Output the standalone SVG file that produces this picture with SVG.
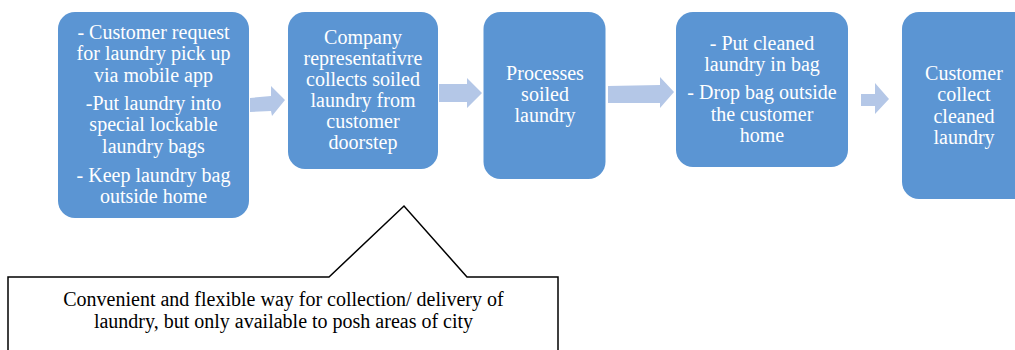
<svg xmlns="http://www.w3.org/2000/svg" width="1015" height="350" viewBox="0 0 1015 350">
<style>
.node{fill:#5B95D3;}
.nt{font-family:'Liberation Serif','Times New Roman',Times,'DejaVu Serif',serif;font-size:20px;fill:#ffffff;text-anchor:middle;}
.arrow{fill:#B4C7E7;}
.call{fill:#ffffff;stroke:#000000;stroke-width:1.5;}
.ct{font-family:'Liberation Serif','Times New Roman',Times,'DejaVu Serif',serif;font-size:20px;fill:#000000;text-anchor:middle;}
</style>
<rect width="1015" height="350" fill="#ffffff"/>
<g id="connectors">
<polygon class="arrow" points="250,98 271,96 271,86 285,100 272,116 271,111 250,112"/>
<polygon class="arrow" points="439,84 467,84 467,78 482,93 467,108 467,102 439,102"/>
<polygon class="arrow" points="608,86 660,85 660,77 674,92 660,108 660,103 608,103"/>
<polygon class="arrow" points="861,94 875,94 875,83 889,99 875,114 875,106 861,106"/>
</g>
<g id="node1" font-family="Liberation Serif, Times New Roman, serif">
<rect class="node" x="58" y="12" width="191" height="206" rx="17"/>
<text class="nt" x="153.5" y="39">- Customer request</text>
<text class="nt" x="153.5" y="60.3">for laundry pick up</text>
<text class="nt" x="153.5" y="81.6">via mobile app</text>
<text class="nt" x="153.5" y="110">-Put laundry into</text>
<text class="nt" x="153.5" y="131.3">special lockable</text>
<text class="nt" x="153.5" y="152.6">laundry bags</text>
<text class="nt" x="153.5" y="181.5">- Keep laundry bag</text>
<text class="nt" x="153.5" y="202.8">outside home</text>
</g>
<g id="node2">
<rect class="node" x="288" y="12" width="150" height="157" rx="17"/>
<text class="nt" x="363" y="43.5">Company</text>
<text class="nt" x="363" y="64.5">representativre</text>
<text class="nt" x="363" y="85.5">collects soiled</text>
<text class="nt" x="363" y="106.5">laundry from</text>
<text class="nt" x="363" y="127.5">customer</text>
<text class="nt" x="363" y="148.5">doorstep</text>
</g>
<g id="node3">
<rect class="node" x="483.5" y="12" width="122" height="167" rx="17"/>
<text class="nt" x="545" y="80">Processes</text>
<text class="nt" x="545" y="101">soiled</text>
<text class="nt" x="545" y="122">laundry</text>
</g>
<g id="node4">
<rect class="node" x="676" y="12" width="172" height="155" rx="17"/>
<text class="nt" x="762" y="49.5">- Put cleaned</text>
<text class="nt" x="762" y="70.8">laundry in bag</text>
<text class="nt" x="762" y="99.2">- Drop bag outside</text>
<text class="nt" x="762" y="120.5">the customer</text>
<text class="nt" x="762" y="141.8">home</text>
</g>
<g id="node5">
<rect class="node" x="902" y="12" width="130" height="187" rx="17"/>
<text class="nt" x="964" y="80">Customer</text>
<text class="nt" x="964" y="101.3">collect</text>
<text class="nt" x="964" y="122.6">cleaned</text>
<text class="nt" x="964" y="143.9">laundry</text>
</g>
<g id="callout">
<path class="call" d="M8,360 V277 H329 L404,206 L467,277 H558 V360"/>
<text class="ct" x="283.5" y="306">Convenient and flexible way for collection/ delivery of</text>
<text class="ct" x="283.5" y="328">laundry, but only available to posh areas of city</text>
</g>
</svg>
